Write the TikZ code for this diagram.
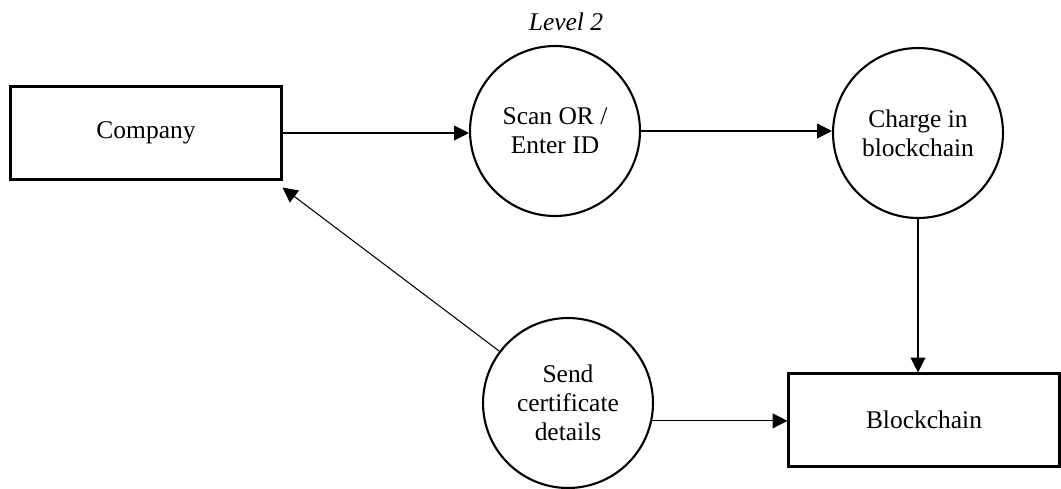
\documentclass[tikz,border=0pt]{standalone}
\usepackage{fontspec}
\setmainfont{Liberation Serif}
\usetikzlibrary{arrows.meta,calc}

\begin{document}
\begin{tikzpicture}[x=0.02cm, y=-0.02cm,
    font=\fontsize{14.5}{16.5}\selectfont,
    entity/.style={draw, line width=1.2pt, minimum width=5.42cm, minimum height=1.86cm},
    process/.style={draw, circle, line width=1.2pt, minimum size=3.4cm, align=center, inner sep=0pt},
    flow/.style={line width=0.6pt, -{Triangle[length=8.5pt,width=8.5pt]}}]

\useasboundingbox (0,0) rectangle (1061,488);

\node at (566,22) (title) {\textit{Level 2}};

\node[entity] at (146,133) (company) {Company};
\node[entity] at (924,420) (chain) {Blockchain};

\node[process] at (555,131) (scan) {Scan OR /\\Enter ID};
\node[process] at (918,133) (charge) {Charge in\\blockchain};
\node[process] at (568,403) (send) {Send\\certificate\\details};

\coordinate (back) at ($(company.south east)+(0,7)$);

\draw[flow] (company.east) -- (company.east -| scan.west);
\draw[flow] (scan.east) -- (scan.east -| charge.west);
\draw[flow] (charge.south) -- (charge.south |- chain.north);
\draw[flow] (send.-12) -- (send.-12 -| chain.west);
\draw[flow] (send) -- (back);

\end{tikzpicture}
\end{document}
